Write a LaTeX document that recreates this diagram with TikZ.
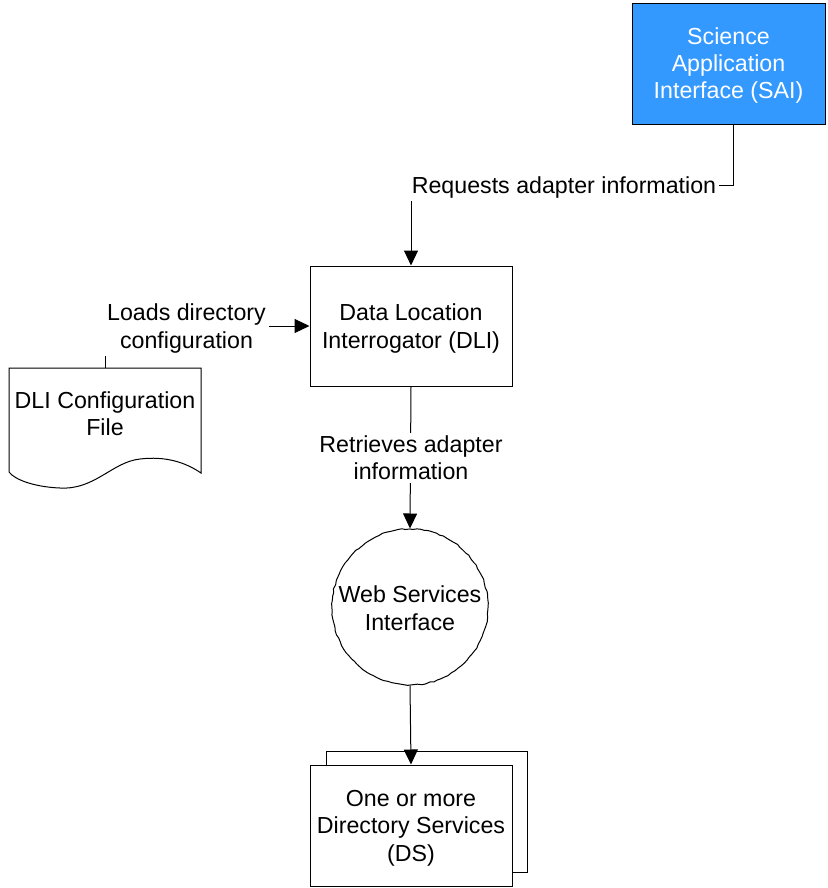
\documentclass[tikz,border=0pt]{standalone}
\usepackage{fontspec}
\setmainfont{Liberation Sans}
\usetikzlibrary{arrows.meta,decorations.pathmorphing}
\definecolor{saiblue}{RGB}{51,153,255}
\begin{document}
\begin{tikzpicture}[x=1pt,y=-1pt,
  font=\fontsize{23.2}{27.4}\selectfont,
  every node/.style={align=center},
  box/.style={draw=black,line width=1pt,fill=white,inner sep=0pt},
  txt/.style={inner sep=0pt,yshift=-2.5pt},
  lbl/.style={fill=white,inner sep=3pt},
  arr/.style={draw=black,line width=1pt,-{Triangle[width=14pt,length=15pt]}},
  rough/.style={decorate,decoration={random steps,segment length=4pt,amplitude=0.6pt}}]
\useasboundingbox (0,0) rectangle (827,888);

% Science Application Interface
\node[box,fill=saiblue,minimum width=193,minimum height=121] (sai) at (728.5,64.5) {};
\node[txt,yshift=1.5pt,text=white] (saitext) at (sai) {Science\\Application\\Interface (SAI)};

% Data Location Interrogator
\node[box,minimum width=202,minimum height=120] (dli) at (411,326) {};
\node[txt] (dlitext) at (dli) {Data Location\\Interrogator (DLI)};

% DLI configuration file (document shape with a wavy lower edge)
\draw[line width=1pt,fill=white] (9,368) -- (201,368) -- (201,473)
  .. controls (185,462) and (165,456) .. (140,459)
  .. controls (112,462) and (95,490) .. (60,488)
  .. controls (35,487) and (15,480) .. (9,472) -- cycle;
\node[inner sep=0pt,minimum width=192,minimum height=84] (cfg) at (105,410) {};
\node[txt,yshift=-1pt] (cfgtext) at (105,410) {DLI Configuration\\File};

% Web services interface
\node[draw=black,line width=1pt,circle,minimum size=156,inner sep=0pt,rough]
  (wsi) at (410,607) {};
\node[txt,yshift=1.5pt] (wsitext) at (wsi) {Web Services\\Interface};

% Directory services (stacked)
\node[box,minimum width=201,minimum height=121] (dsback) at (426.5,811.5) {};
\node[box,minimum width=202,minimum height=121] (ds) at (411,825.5) {};
\node[txt] (dstext) at (ds) {One or more\\Directory Services\\(DS)};

% Connectors
\draw[arr] ([xshift=4.5pt]sai.south) -- ++(0,60) -| (dli.north);
\node[lbl] (req) at (564,187.5) {Requests adapter information};

\draw[arr] (cfg.north) |- (dli.west);
\node[lbl] (loads) at (186.5,328.5) {Loads directory\\configuration};

\draw[arr] (dli.south) -- (wsi.north);
\node[lbl] (retr) at (411,458) {Retrieves adapter\\information};

\draw[arr] (wsi.south) -- (ds.north);
\end{tikzpicture}
\end{document}
